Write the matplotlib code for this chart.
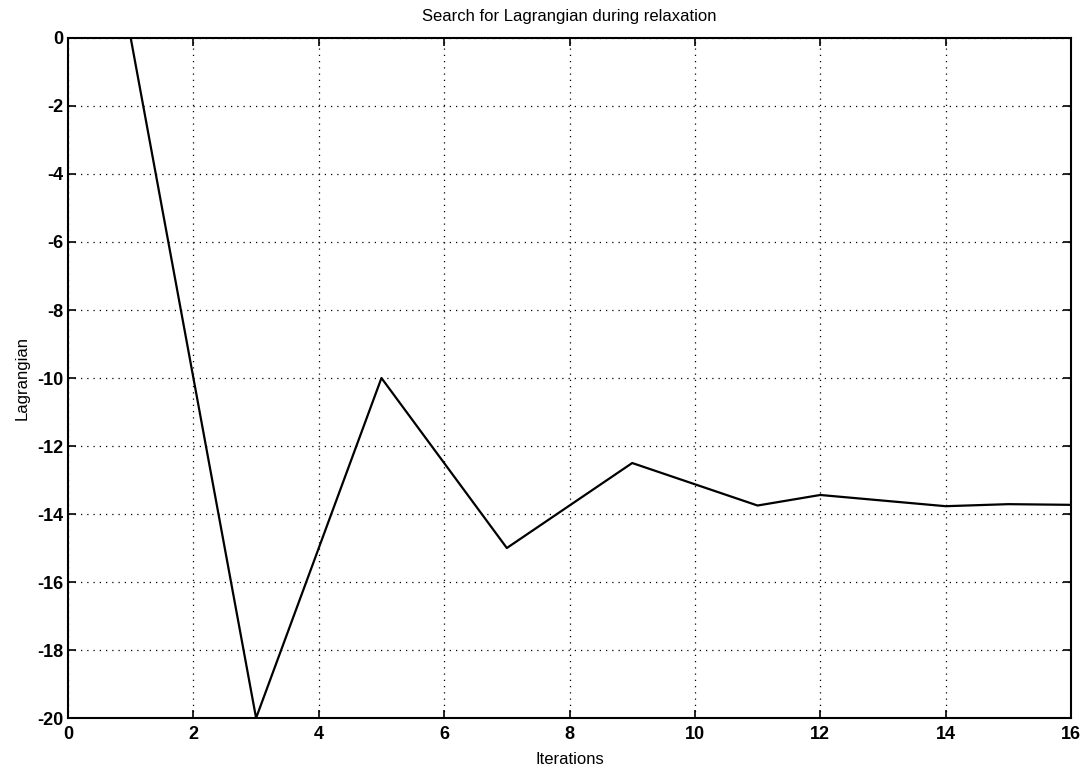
import matplotlib.pyplot as plt
import numpy as np

# Lagrangian value at each relaxation iteration (vertices of the line)
iterations = [1, 3, 5, 7, 9, 11, 12, 14, 15, 16]
lagrangian = [0.0, -20.0, -10.0, -15.0, -12.5, -13.75, -13.44, -13.77, -13.71, -13.73]

x_ticks = np.arange(0, 17, 2)
y_ticks = np.arange(-20, 1, 2)

plt.rcParams["font.family"] = ["Liberation Sans", "DejaVu Sans"]
plt.rcParams["axes.unicode_minus"] = False

fig = plt.figure(figsize=(10.85, 7.72), dpi=100)
ax = fig.add_axes([0.0627, 0.0699, 0.9244, 0.8809])
ax.plot(iterations, lagrangian, color="black", linewidth=1.6)

ax.set_xlim(0, 16)
ax.set_ylim(-20, 0)
ax.set_xticks(x_ticks)
ax.set_yticks(y_ticks)
ax.grid(True, color="black", linestyle=(0, (1, 4)), linewidth=0.9)
ax.tick_params(direction="in", top=True, right=True, length=6, width=1.2,
               labelsize=13, pad=3)
ax.tick_params(axis="x", pad=6)
for label in ax.get_xticklabels() + ax.get_yticklabels():
    label.set_fontweight("bold")
for spine in ax.spines.values():
    spine.set_linewidth(1.5)

ax.set_title("Search for Lagrangian during relaxation", fontsize=12, pad=12)
ax.set_xlabel("Iterations", fontsize=12, labelpad=6)
ax.set_ylabel("Lagrangian", fontsize=12, labelpad=6)

fig.savefig("out.png", dpi=100)
